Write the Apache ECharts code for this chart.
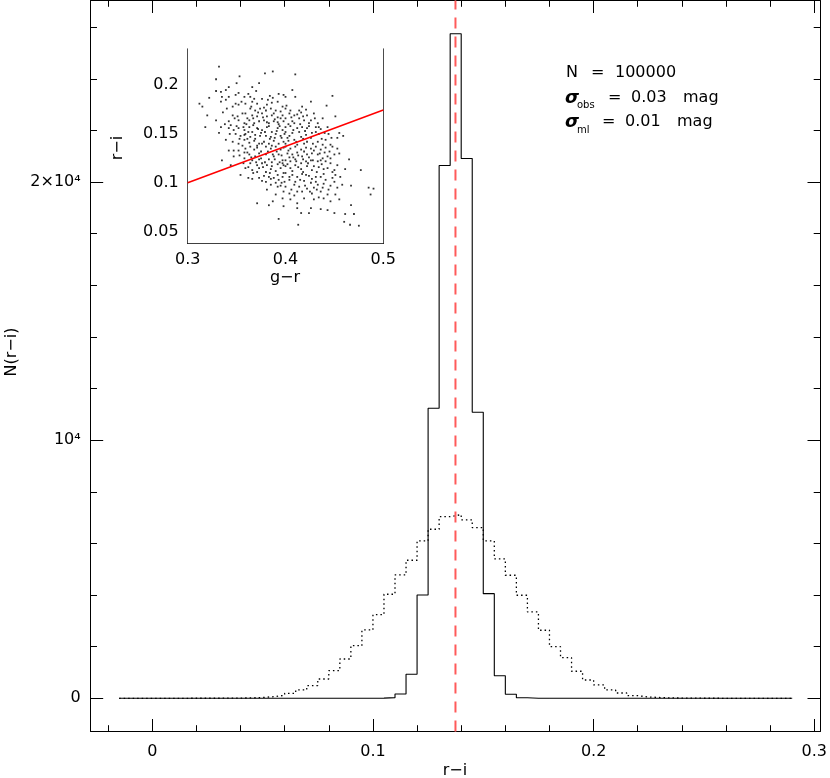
<!DOCTYPE html>
<html>
<head>
<meta charset="utf-8">
<script src="https://cdn.jsdelivr.net/npm/echarts@6/dist/echarts.min.js"></script>
<style>
  html, body { margin: 0; padding: 0; background: #fff; }
  #chart { width: 830px; height: 778px; }
</style>
</head>
<body>
<div id="chart"></div>
<script>
// histogram bins: lo edge = binStart + i * binWidth
const binStart = -0.015
const binWidth = 0.005

// N(r-i) with sigma_ml = 0.01 (solid)
const solidCounts = [
  0, 0, 0, 0, 0, 0, 0, 0, 0, 0, 0, 0, 0, 0, 0, 0, 0, 0, 0, 0, 0, 0, 0,
  6, 25, 167, 930, 4004, 11240, 20643, 25750, 20915, 11085, 4054, 876, 155, 22, 4,
  0, 0, 0, 0, 0, 0, 0, 0, 0, 0, 0, 0, 0, 0, 0, 0, 0, 0, 0, 0, 0, 0, 0
]

// observed N(r-i) with sigma_obs = 0.03 (dotted)
const dottedCounts = [
  0, 0, 0, 0, 0, 0,
  1, 1, 2, 4, 8, 15, 30, 62, 116, 194, 322, 488, 748, 1070, 1523, 2039, 2647,
  3240, 4031, 4779, 5349, 6097, 6550, 7039, 7116, 6911, 6613, 6097, 5399, 4767,
  3992, 3345, 2636, 2000, 1574, 1047, 709, 516, 322, 205, 100, 50, 30, 15, 8, 4, 2, 1,
  0, 0, 0, 0, 0, 0, 0
]

const meanRI = 0.1374

const mainXMajor = [0, 0.1, 0.2, 0.3]
const mainXMinor = [-0.02, 0.02, 0.04, 0.06, 0.08, 0.12, 0.14, 0.16, 0.18, 0.22, 0.24, 0.26, 0.28]
const mainYMajor = [0, 10000, 20000]
const mainYMinor = [2000, 4000, 6000, 8000, 12000, 14000, 16000, 18000, 22000, 24000, 26000]
const mainYLabels = { 0: '0', 10000: '10⁴', 20000: '2×10⁴' }

const insetXMajor = [0.3, 0.4, 0.5]
const insetXMinor = [0.32, 0.34, 0.36, 0.38, 0.42, 0.44, 0.46, 0.48]
const insetYMajor = [0.05, 0.1, 0.15, 0.2]
const insetYMinor = [0.04, 0.06, 0.07, 0.08, 0.09, 0.11, 0.12, 0.13, 0.14, 0.16, 0.17, 0.18, 0.19, 0.21, 0.22, 0.23]
const insetYLabels = { 0.05: '0.05', 0.1: '0.1', 0.15: '0.15', 0.2: '0.2' }

// inset: g-r vs r-i
const fitLine = [[0.3, 0.1], [0.5, 0.1745]]
const insetPoints = [
  [0.332, 0.219], [0.379, 0.212], [0.387, 0.214], [0.329, 0.206], [0.350, 0.202], [0.353, 0.209],
  [0.373, 0.202], [0.342, 0.198], [0.339, 0.195], [0.334, 0.193], [0.329, 0.194], [0.352, 0.192],
  [0.366, 0.198], [0.362, 0.191], [0.370, 0.194], [0.322, 0.187], [0.335, 0.188], [0.342, 0.188],
  [0.349, 0.190], [0.358, 0.188], [0.364, 0.188], [0.376, 0.186], [0.382, 0.185], [0.387, 0.187],
  [0.393, 0.191], [0.398, 0.190], [0.312, 0.181], [0.315, 0.178], [0.334, 0.183], [0.339, 0.185],
  [0.349, 0.181], [0.352, 0.180], [0.359, 0.181], [0.366, 0.183], [0.371, 0.181], [0.381, 0.180],
  [0.386, 0.182], [0.392, 0.183], [0.397, 0.178], [0.340, 0.176], [0.346, 0.178], [0.364, 0.176],
  [0.369, 0.174], [0.374, 0.176], [0.380, 0.174], [0.385, 0.176], [0.390, 0.174], [0.395, 0.173],
  [0.320, 0.169], [0.346, 0.169], [0.351, 0.168], [0.359, 0.171], [0.366, 0.169], [0.371, 0.168],
  [0.376, 0.171], [0.381, 0.168], [0.386, 0.169], [0.392, 0.167], [0.397, 0.169], [0.329, 0.164],
  [0.342, 0.163], [0.352, 0.164], [0.358, 0.161], [0.363, 0.164], [0.368, 0.161], [0.373, 0.163],
  [0.378, 0.164], [0.383, 0.161], [0.388, 0.163], [0.393, 0.160], [0.398, 0.163], [0.318, 0.157],
  [0.334, 0.157], [0.342, 0.156], [0.347, 0.154], [0.352, 0.156], [0.358, 0.154], [0.363, 0.157],
  [0.366, 0.152], [0.371, 0.156], [0.376, 0.154], [0.381, 0.157], [0.386, 0.152], [0.392, 0.156],
  [0.397, 0.154], [0.332, 0.151], [0.349, 0.150], [0.354, 0.148], [0.359, 0.150], [0.364, 0.147],
  [0.369, 0.149], [0.375, 0.151], [0.380, 0.148], [0.385, 0.147], [0.390, 0.150], [0.395, 0.148],
  [0.339, 0.144], [0.346, 0.142], [0.352, 0.140], [0.358, 0.144], [0.363, 0.141], [0.368, 0.143],
  [0.373, 0.140], [0.378, 0.142], [0.383, 0.140], [0.388, 0.143], [0.393, 0.140], [0.398, 0.142],
  [0.356, 0.138], [0.371, 0.138], [0.386, 0.138],
  [0.410, 0.211], [0.407, 0.195], [0.400, 0.188], [0.410, 0.188], [0.448, 0.189], [0.426, 0.183],
  [0.442, 0.179], [0.400, 0.176], [0.405, 0.174], [0.414, 0.174], [0.421, 0.175], [0.404, 0.171],
  [0.409, 0.169], [0.416, 0.172], [0.422, 0.169], [0.429, 0.171], [0.438, 0.166], [0.451, 0.168],
  [0.400, 0.166], [0.407, 0.163], [0.414, 0.166], [0.419, 0.164], [0.426, 0.164], [0.433, 0.161],
  [0.400, 0.157], [0.405, 0.158], [0.412, 0.156], [0.417, 0.157], [0.424, 0.158], [0.431, 0.157],
  [0.436, 0.155], [0.443, 0.157], [0.400, 0.152], [0.407, 0.151], [0.414, 0.152], [0.421, 0.149],
  [0.427, 0.151], [0.434, 0.150], [0.444, 0.150], [0.455, 0.151], [0.402, 0.146], [0.409, 0.144],
  [0.416, 0.147], [0.422, 0.142], [0.433, 0.142], [0.441, 0.144], [0.459, 0.148], [0.453, 0.146],
  [0.400, 0.140], [0.412, 0.139], [0.419, 0.140], [0.438, 0.139], [0.446, 0.139],
  [0.342, 0.133], [0.347, 0.133], [0.352, 0.133], [0.359, 0.135], [0.364, 0.137], [0.368, 0.134],
  [0.371, 0.136], [0.375, 0.132], [0.380, 0.137], [0.385, 0.135], [0.390, 0.137], [0.395, 0.134],
  [0.398, 0.136], [0.335, 0.123], [0.358, 0.125], [0.363, 0.129], [0.366, 0.123], [0.369, 0.127],
  [0.375, 0.125], [0.380, 0.129], [0.383, 0.124], [0.388, 0.127], [0.393, 0.129], [0.397, 0.123],
  [0.364, 0.120], [0.371, 0.118], [0.376, 0.120], [0.381, 0.118], [0.386, 0.121], [0.392, 0.119],
  [0.397, 0.120], [0.354, 0.108], [0.359, 0.115], [0.366, 0.113], [0.373, 0.115], [0.380, 0.111],
  [0.385, 0.114], [0.390, 0.112], [0.395, 0.115], [0.398, 0.110], [0.362, 0.105], [0.366, 0.104],
  [0.373, 0.105], [0.383, 0.106], [0.388, 0.105], [0.393, 0.103], [0.397, 0.106], [0.380, 0.101],
  [0.385, 0.098], [0.390, 0.100], [0.395, 0.097], [0.399, 0.101], [0.381, 0.093], [0.390, 0.088],
  [0.398, 0.091], [0.371, 0.079], [0.383, 0.077], [0.387, 0.081], [0.393, 0.063], [0.397, 0.084],
  [0.398, 0.076],
  [0.400, 0.137], [0.405, 0.135], [0.410, 0.137], [0.416, 0.134], [0.421, 0.136], [0.426, 0.135],
  [0.431, 0.137], [0.436, 0.134], [0.441, 0.136], [0.448, 0.137], [0.453, 0.135], [0.402, 0.130],
  [0.407, 0.129], [0.412, 0.131], [0.417, 0.127], [0.422, 0.129], [0.427, 0.130], [0.433, 0.129],
  [0.438, 0.125], [0.443, 0.127], [0.450, 0.129], [0.455, 0.130], [0.400, 0.123], [0.405, 0.122],
  [0.410, 0.124], [0.416, 0.120], [0.421, 0.122], [0.426, 0.123], [0.433, 0.122], [0.436, 0.123],
  [0.441, 0.122], [0.446, 0.120], [0.453, 0.118], [0.465, 0.124], [0.400, 0.117], [0.405, 0.115],
  [0.410, 0.118], [0.416, 0.114], [0.422, 0.117], [0.427, 0.113], [0.434, 0.116], [0.439, 0.114],
  [0.450, 0.113], [0.461, 0.114], [0.477, 0.113], [0.400, 0.110], [0.407, 0.108], [0.412, 0.106],
  [0.417, 0.109], [0.424, 0.107], [0.431, 0.106], [0.439, 0.109], [0.448, 0.105], [0.456, 0.106],
  [0.404, 0.103], [0.410, 0.101], [0.419, 0.102], [0.426, 0.100], [0.433, 0.098], [0.439, 0.099],
  [0.450, 0.101], [0.458, 0.098], [0.467, 0.097], [0.485, 0.095], [0.400, 0.096], [0.414, 0.096],
  [0.422, 0.094], [0.429, 0.095], [0.436, 0.091], [0.444, 0.093], [0.453, 0.095], [0.404, 0.089],
  [0.409, 0.087], [0.417, 0.091], [0.427, 0.089], [0.434, 0.085], [0.443, 0.088], [0.451, 0.088],
  [0.455, 0.083], [0.405, 0.083], [0.412, 0.079], [0.419, 0.084], [0.429, 0.083], [0.439, 0.084],
  [0.446, 0.081], [0.467, 0.077], [0.412, 0.074], [0.416, 0.069], [0.426, 0.074], [0.436, 0.073],
  [0.443, 0.072], [0.450, 0.069], [0.461, 0.068], [0.470, 0.068], [0.424, 0.069], [0.413, 0.057],
  [0.460, 0.060], [0.466, 0.057], [0.475, 0.056], [0.490, 0.094], [0.487, 0.088],
  // denser core
  [0.356, 0.171], [0.361, 0.166], [0.367, 0.159], [0.372, 0.172], [0.377, 0.167], [0.383, 0.158],
  [0.389, 0.165], [0.394, 0.158], [0.357, 0.157], [0.362, 0.152], [0.369, 0.145], [0.374, 0.148],
  [0.379, 0.152], [0.384, 0.145], [0.391, 0.153], [0.396, 0.146], [0.353, 0.145], [0.360, 0.160],
  [0.365, 0.178], [0.378, 0.177], [0.388, 0.171], [0.395, 0.166], [0.344, 0.159], [0.348, 0.166],
  [0.336, 0.172], [0.355, 0.183], [0.368, 0.186], [0.384, 0.189], [0.343, 0.150], [0.338, 0.160],
  [0.361, 0.145], [0.376, 0.140], [0.389, 0.146], [0.399, 0.150], [0.372, 0.155], [0.381, 0.162],
  [0.367, 0.166], [0.392, 0.162], [0.358, 0.149], [0.350, 0.158],
  [0.403, 0.160], [0.408, 0.154], [0.415, 0.160], [0.420, 0.153], [0.426, 0.146], [0.431, 0.152],
  [0.437, 0.145], [0.404, 0.148], [0.411, 0.142], [0.418, 0.145], [0.428, 0.140], [0.434, 0.157],
  [0.440, 0.151], [0.447, 0.146], [0.406, 0.167], [0.412, 0.170], [0.418, 0.168], [0.424, 0.161],
  [0.430, 0.166], [0.401, 0.179], [0.417, 0.178], [0.403, 0.143], [0.422, 0.156], [0.409, 0.161],
  [0.353, 0.128], [0.357, 0.120], [0.361, 0.131], [0.365, 0.126], [0.370, 0.121], [0.373, 0.130],
  [0.377, 0.116], [0.382, 0.132], [0.386, 0.117], [0.389, 0.124], [0.392, 0.108], [0.396, 0.128],
  [0.367, 0.110], [0.378, 0.107], [0.384, 0.110], [0.391, 0.132], [0.398, 0.118], [0.362, 0.116],
  [0.373, 0.124], [0.387, 0.129], [0.394, 0.121], [0.379, 0.121], [0.358, 0.131], [0.371, 0.111],
  [0.347, 0.127], [0.344, 0.118], [0.376, 0.102], [0.392, 0.096], [0.385, 0.104], [0.396, 0.100],
  [0.403, 0.133], [0.408, 0.126], [0.413, 0.128], [0.419, 0.132], [0.424, 0.126], [0.429, 0.133],
  [0.435, 0.130], [0.440, 0.131], [0.446, 0.125], [0.402, 0.119], [0.407, 0.112], [0.413, 0.116],
  [0.418, 0.111], [0.423, 0.120], [0.429, 0.117], [0.432, 0.111], [0.437, 0.119], [0.443, 0.115],
  [0.448, 0.111], [0.404, 0.106], [0.409, 0.098], [0.415, 0.103], [0.421, 0.108], [0.427, 0.104],
  [0.431, 0.101], [0.441, 0.103], [0.446, 0.097], [0.406, 0.093], [0.412, 0.091], [0.420, 0.097],
  [0.425, 0.091], [0.432, 0.093], [0.438, 0.095], [0.411, 0.122], [0.428, 0.123], [0.445, 0.132],
  [0.418, 0.124], [0.404, 0.126], [0.436, 0.106], [0.451, 0.108]
]

const FONT = 'DejaVu Sans'

function stepData(counts) {
  const pts = counts.map((c, i) => [binStart + i * binWidth, c])
  pts.push([binStart + counts.length * binWidth, counts[counts.length - 1]])
  return pts
}

// one axis = one set of inward ticks; frame axes are stacked at the same position
function axis(gridIndex, position, min, max, ticks, len, opts = {}) {
  return {
    type: 'value', gridIndex, position, min, max,
    axisLine: { show: !!opts.line, onZero: false, lineStyle: { color: '#000', width: 1 } },
    axisTick: { show: true, inside: true, length: len, customValues: ticks, lineStyle: { color: '#000', width: 1 } },
    axisLabel: opts.labels ? {
      show: true, customValues: ticks, color: '#000', fontFamily: FONT, fontSize: 16,
      margin: opts.margin, formatter: opts.formatter, showMinLabel: true, showMaxLabel: true,
    } : { show: false },
    splitLine: { show: false },
  }
}

function label(text, x, y, size = 16, extra = {}) {
  return {
    type: 'text', x, y, rotation: extra.rotation || 0, z: 20,
    style: {
      text, font: `${extra.font || ''} ${size}px "${FONT}"`, fill: '#000',
      align: extra.align || 'left', verticalAlign: 'middle',
      textAlign: extra.align || 'left', textVerticalAlign: 'middle',
    },
  }
}

const chart = echarts.init(document.getElementById('chart'), null, { renderer: 'canvas' })

const mainX = [-0.0279, 0.3026]
const mainY = [-1287, 27037]
const insetX = [0.3, 0.5]
const insetY = [0.038, 0.237]

chart.setOption({
  animation: false,
  backgroundColor: '#fff',
  grid: [
    { left: 90.7, top: 0.5, width: 730.3, height: 731 },
    { left: 187.7, top: 49, width: 195.6, height: 194.3, show: true, backgroundColor: '#fff', borderWidth: 0, z: 5 },
  ],
  xAxis: [
    axis(0, 'bottom', mainX[0], mainX[1], mainXMajor, 12.5, { line: true, labels: true, margin: 12, formatter: v => String(v) }),
    axis(0, 'bottom', mainX[0], mainX[1], mainXMinor, 6.3),
    axis(0, 'top', mainX[0], mainX[1], mainXMajor, 12.5, { line: true }),
    axis(0, 'top', mainX[0], mainX[1], mainXMinor, 6.3),
    axis(1, 'bottom', insetX[0], insetX[1], insetXMajor, 12, { line: true, labels: true, margin: 9, formatter: v => String(v) }),
    axis(1, 'bottom', insetX[0], insetX[1], insetXMinor, 6),
    axis(1, 'top', insetX[0], insetX[1], insetXMajor, 12, { line: true }),
    axis(1, 'top', insetX[0], insetX[1], insetXMinor, 6),
  ],
  yAxis: [
    axis(0, 'left', mainY[0], mainY[1], mainYMajor, 12.5, { line: true, labels: true, margin: 10, formatter: v => mainYLabels[v] }),
    axis(0, 'left', mainY[0], mainY[1], mainYMinor, 6.3),
    axis(0, 'right', mainY[0], mainY[1], mainYMajor, 12.5, { line: true }),
    axis(0, 'right', mainY[0], mainY[1], mainYMinor, 6.3),
    axis(1, 'left', insetY[0], insetY[1], insetYMajor, 12, { line: true, labels: true, margin: 9, formatter: v => insetYLabels[v] }),
    axis(1, 'left', insetY[0], insetY[1], insetYMinor, 6),
    axis(1, 'right', insetY[0], insetY[1], insetYMajor, 12, { line: true }),
    axis(1, 'right', insetY[0], insetY[1], insetYMinor, 6),
  ],
  series: [
    {
      name: 'dotted', type: 'line', xAxisIndex: 0, yAxisIndex: 0,
      data: stepData(dottedCounts), step: 'end', symbol: 'none',
      lineStyle: { color: '#000', width: 1.3, type: [1.5, 3] },
    },
    {
      name: 'solid', type: 'line', xAxisIndex: 0, yAxisIndex: 0,
      data: stepData(solidCounts), step: 'end', symbol: 'none',
      lineStyle: { color: '#000', width: 1.1 },
    },
    {
      name: 'mean', type: 'line', xAxisIndex: 0, yAxisIndex: 0, z: 3,
      data: [[meanRI, mainY[0]], [meanRI, mainY[1]]], symbol: 'none',
      lineStyle: { color: '#ff5a5a', width: 2, type: [11, 8] },
    },
    {
      name: 'inset', type: 'scatter', xAxisIndex: 4, yAxisIndex: 4, z: 6,
      data: insetPoints, symbol: 'rect', symbolSize: 1.8,
      itemStyle: { color: '#000' },
    },
    {
      name: 'fit', type: 'line', xAxisIndex: 4, yAxisIndex: 4, z: 7,
      data: fitLine, symbol: 'none',
      lineStyle: { color: '#ff0000', width: 1.5 },
    },
  ],
  graphic: [
    label('r−i', 455, 771, 16, { align: 'center' }),
    label('N(r−i)', 12, 352, 16, { align: 'center', rotation: Math.PI / 2 }),
    label('g−r', 285, 278, 16, { align: 'center' }),
    label('r−i', 118, 148, 16, { align: 'center', rotation: Math.PI / 2 }),

    label('N', 566, 73),
    label('=', 591, 73),
    label('100000', 615, 73),

    label('σ', 565, 98, 18, { font: 'italic bold' }),
    label('obs', 577, 105, 10),
    label('=', 608, 98),
    label('0.03', 631, 98),
    label('mag', 683, 98),

    label('σ', 565, 122, 18, { font: 'italic bold' }),
    label('ml', 577, 130, 10),
    label('=', 602, 122),
    label('0.01', 625, 122),
    label('mag', 677, 122),
  ],
})
</script>
</body>
</html>
